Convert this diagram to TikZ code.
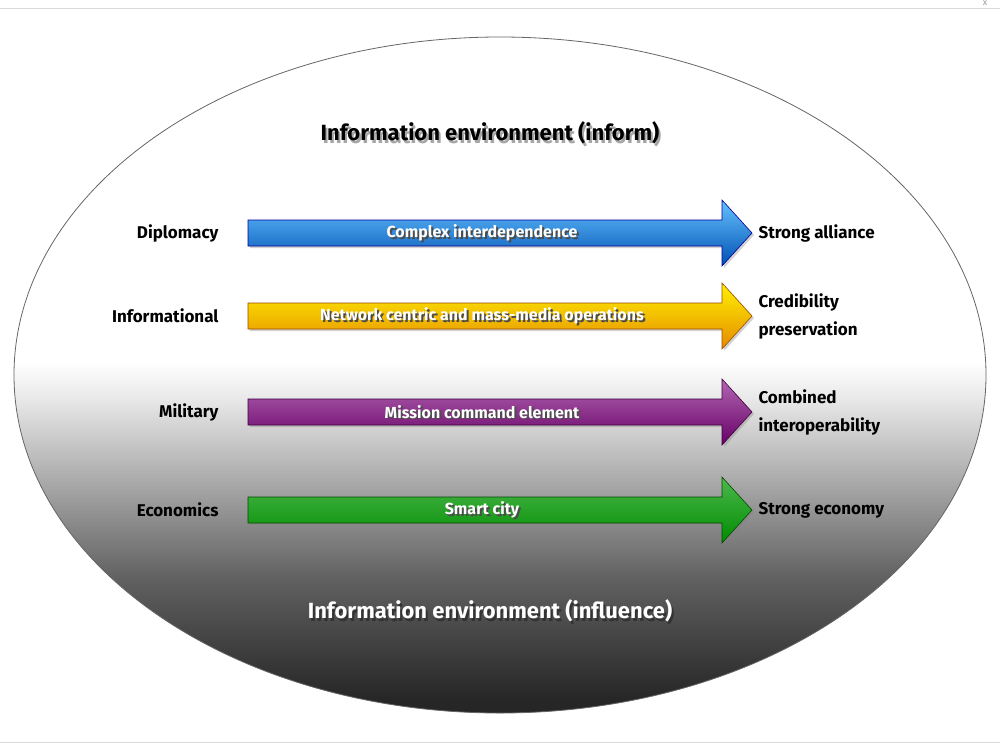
\documentclass[tikz,border=0pt]{standalone}
\usepackage{fontspec}
\setmainfont{Fira Sans}
\usetikzlibrary{shadows}
\pgfdeclareverticalshading{ellsh}{100bp}{color(0bp)=(black!92); color(26bp)=(black!85); color(35bp)=(black!62); color(43bp)=(black!30); color(48.5bp)=(black!8); color(51bp)=(white); color(100bp)=(white)}
\begin{document}
\begin{tikzpicture}[x=1pt,y=-1pt,
  lab/.style={font=\bfseries\fontsize{17}{28}\selectfont, align=left, anchor=west},
  labr/.style={font=\bfseries\fontsize{17}{19}\selectfont, anchor=east},
  atext/.style={font=\bfseries\fontsize{16}{18}\selectfont, text=white},
  ashadow/.style={font=\bfseries\fontsize{16}{18}\selectfont, text=black!70}]
\useasboundingbox (0,0) rectangle (1000,750);
\fill[white] (0,0) rectangle (1000,750);
\draw[black!15] (0,8) -- (1000,8);
\draw[black!15] (0,742) -- (1000,742);
\node[text=black!40, font=\small] (x) at (985,3) {x};
\path[shading=ellsh, draw=black!60, line width=0.8pt] (500,375) ellipse [x radius=486, y radius=338];
\node[text=black!35, font=\bfseries\fontsize{22}{24}\selectfont] (t1s) at (492,136) {Information environment (inform)};
\node[font=\bfseries\fontsize{22}{24}\selectfont] (t1) at (490,133) {Information environment (inform)};
\node[text=black!80, font=\bfseries\fontsize{22}{24}\selectfont] (t2s) at (492,614) {Information environment (influence)};
\node[text=white, font=\bfseries\fontsize{22}{24}\selectfont] (t2) at (490,611) {Information environment (influence)};
\foreach \y/\ca/\cb/\cc/\txt/\l/\r [count=\i] in {
  233/{blue!40!cyan!60!white}/{blue!55!cyan!70!black}/{blue!60!black}/{Complex interdependence}/{Diplomacy}/{Strong alliance},
  316/{yellow!90!orange}/{orange!80!yellow!90!black}/{orange!60!black}/{Network centric and mass-media operations}/{Informational}/{Credibility\\preservation},
  412/{violet!60!white}/{violet!80!black}/{violet!50!black}/{Mission command element}/{Military}/{Combined\\interoperability},
  510/{green!60!black!70!white}/{green!55!black}/{green!30!black}/{Smart city}/{Economics}/{Strong economy}} {
  \path[top color=\ca, bottom color=\cb, draw=\cc, line width=0.6pt, drop shadow={opacity=0.35, shadow xshift=2pt, shadow yshift=-2pt}]
    (248,\y-13) -- (722,\y-13) -- (722,\y-33) -- (752,\y) -- (722,\y+33) -- (722,\y+13) -- (248,\y+13) -- cycle;
  \node[ashadow] (as\i) at (484,\y+1.5) {\txt};
  \node[atext] (a\i) at (482,\y) {\txt};
  \node[labr] (l\i) at (222,\y) {\l};
  \node[lab] (r\i) at (755,\y) {\r};
}
\end{tikzpicture}
\end{document}
